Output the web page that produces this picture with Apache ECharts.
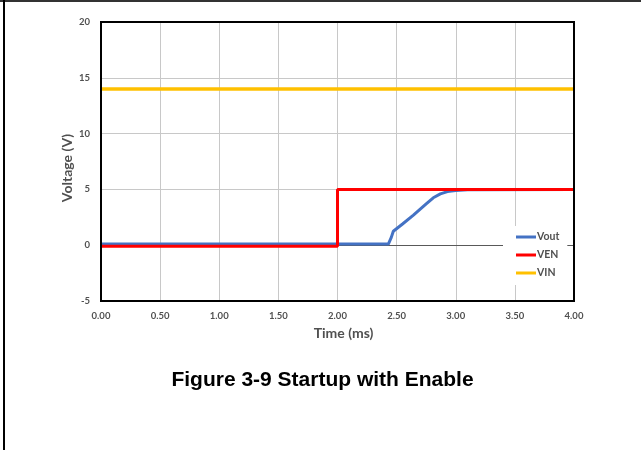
<!DOCTYPE html>
<html>
<head>
<meta charset="utf-8">
<script src="https://cdn.jsdelivr.net/npm/echarts@6/dist/echarts.min.js"></script>
<style>
html,body{margin:0;padding:0;background:#fff;}
#chart{width:641px;height:450px;}
</style>
</head>
<body>
<div id="chart"></div>
<script>
// ---- Data (time in ms, voltage in V) ----
const xTicks = [0.0, 0.5, 1.0, 1.5, 2.0, 2.5, 3.0, 3.5, 4.0];
const yTicks = [-5, 0, 5, 10, 15, 20];

const voutTime = [0, 2.43, 2.455, 2.472, 2.55, 2.642, 2.75, 2.81, 2.87, 2.93, 3.0, 3.1, 4.0];
const voutVolt = [0.1, 0.1, 0.7, 1.25, 1.9, 2.69, 3.7, 4.25, 4.6, 4.8, 4.9, 4.97, 5.0];

const venTime = [0, 2.0, 2.0, 4.0];
const venVolt = [-0.1, -0.1, 5.0, 5.0];

const vinTime = [0, 4.0];
const vinVolt = [14.0, 14.0];

const seriesNames = ['Vout', 'VEN', 'VIN'];
const seriesColors = ['#4472C4', '#FF0000', '#FFC000'];

function pairs(t, v) { return t.map((x, i) => [x, v[i]]); }

const chart = echarts.init(document.getElementById('chart'), null, {renderer: 'canvas'});
const labelFont = {color: '#505050', fontFamily: 'Lato', fontWeight: 'bold', fontSize: 9.5};
const G = {left: 101, top: 22, right: 67, bottom: 149};

chart.setOption({
  animation: false,
  backgroundColor: '#fff',
  grid: {left: G.left, right: G.right, top: G.top, bottom: G.bottom, show: false},
  xAxis: [{
    type: 'value', min: xTicks[0], max: xTicks[xTicks.length - 1], interval: 0.5,
    axisLine: {show: false, onZero: false},
    axisTick: {show: false},
    axisLabel: Object.assign({margin: 10, formatter: v => v.toFixed(2)}, labelFont),
    splitLine: {show: true, lineStyle: {color: '#c8c8c8', width: 1}}
  }, {
    type: 'value', min: xTicks[0], max: xTicks[xTicks.length - 1], position: 'bottom',
    axisLine: {show: true, onZero: true, lineStyle: {color: '#595959', width: 1}},
    axisTick: {show: false}, axisLabel: {show: false}, splitLine: {show: false}
  }],
  yAxis: {
    type: 'value', min: yTicks[0], max: yTicks[yTicks.length - 1], interval: 5,
    axisLine: {show: false}, axisTick: {show: false},
    axisLabel: Object.assign({margin: 11}, labelFont),
    splitLine: {show: true, lineStyle: {color: '#c8c8c8', width: 1}}
  },
  legend: {
    orient: 'vertical', left: 503, top: 226,
    padding: [5, 8, 6, 13], backgroundColor: '#fff',
    itemWidth: 20, itemHeight: 3, itemGap: 6, icon: 'rect',
    data: seriesNames,
    textStyle: {color: '#505050', fontFamily: 'Lato', fontWeight: 'bold', fontSize: 10.5, lineHeight: 12, padding: [0, 0, 0, -4]}
  },
  series: [
    {name: seriesNames[0], type: 'line', data: pairs(voutTime, voutVolt), showSymbol: false, symbol: 'none',
     lineStyle: {color: seriesColors[0], width: 3}, itemStyle: {color: seriesColors[0]}},
    {name: seriesNames[1], type: 'line', data: pairs(venTime, venVolt), showSymbol: false, symbol: 'none',
     lineStyle: {color: seriesColors[1], width: 3}, itemStyle: {color: seriesColors[1]}},
    {name: seriesNames[2], type: 'line', data: pairs(vinTime, vinVolt), showSymbol: false, symbol: 'none',
     lineStyle: {color: seriesColors[2], width: 3.5}, itemStyle: {color: seriesColors[2]}}
  ],
  graphic: [
    {type: 'rect', z: 5, silent: true,
     shape: {x: G.left, y: G.top, width: 641 - G.left - G.right, height: 450 - G.top - G.bottom},
     style: {fill: 'none', stroke: '#000', lineWidth: 2}},
    {type: 'rect', shape: {x: 0, y: 0, width: 641, height: 2}, style: {fill: '#333'}, z: 10},
    {type: 'rect', shape: {x: 3, y: 0, width: 2, height: 450}, style: {fill: '#000'}, z: 10},
    {type: 'text', z: 10, style: {text: 'Time (ms)', x: 343.5, y: 333,
      align: 'center', verticalAlign: 'middle',
      font: 'bold 14px Lato, sans-serif', fill: '#505050'}},
    {type: 'text', z: 10, rotation: Math.PI / 2, x: 67.5, y: 168,
     style: {text: 'Voltage (V)', x: 0, y: 0, align: 'center', verticalAlign: 'middle',
      font: 'bold 14px Lato, sans-serif', fill: '#505050'}},
    {type: 'text', z: 10, style: {text: 'Figure 3-9 Startup with Enable', x: 322.5, y: 380,
      align: 'center', verticalAlign: 'middle',
      font: 'bold 21px "Liberation Sans", Arial, sans-serif', fill: '#000'}}
  ]
});
</script>
</body>
</html>
